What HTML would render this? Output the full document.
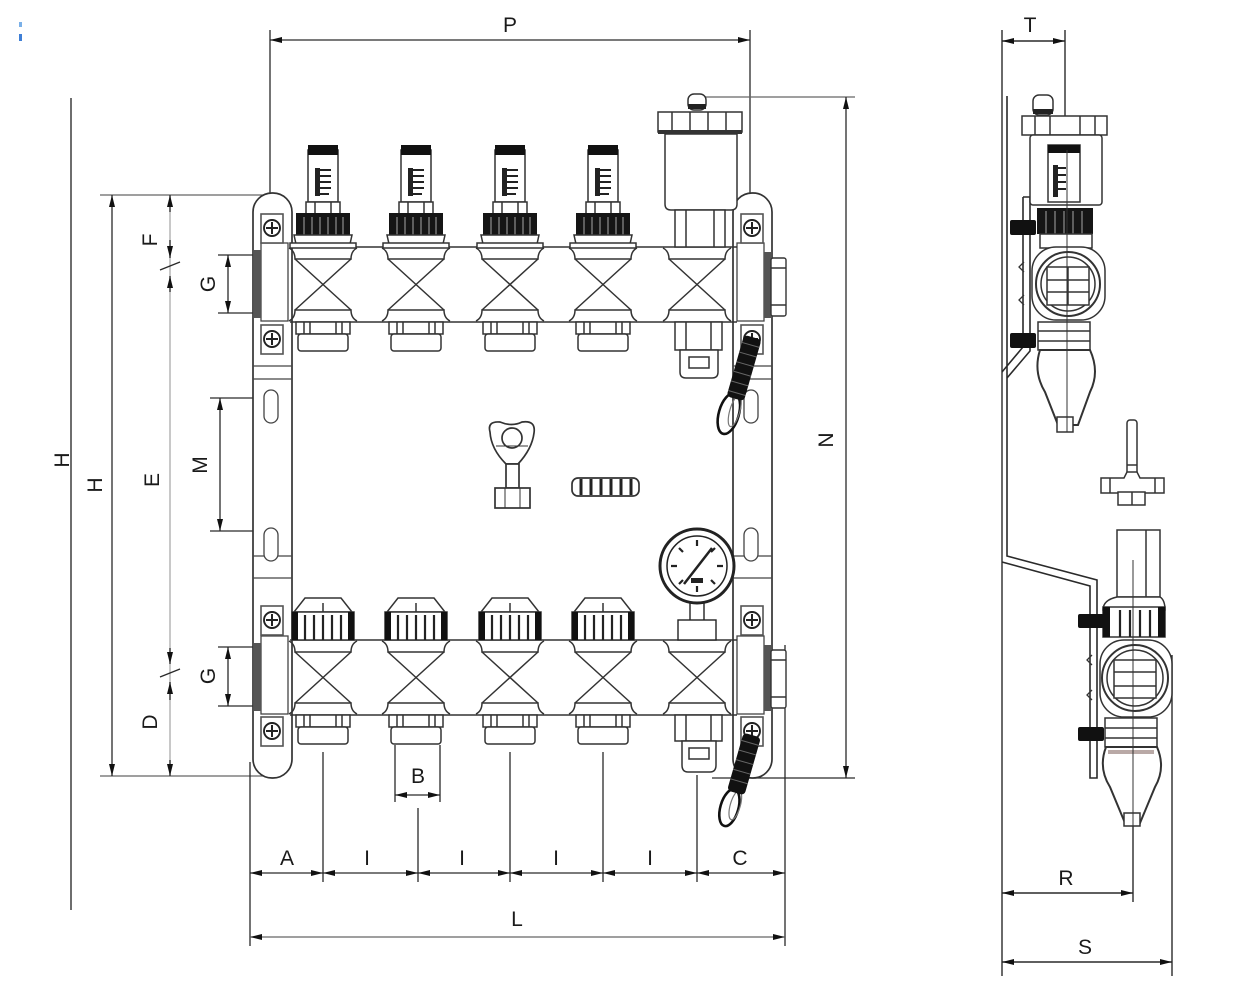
<!DOCTYPE html>
<html><head><meta charset="utf-8"><style>
html,body{margin:0;padding:0;background:#fff;}
svg{display:block;}
text{font-family:"Liberation Sans",sans-serif;font-size:21px;fill:#1a1a1a;}
</style></head><body>
<svg width="1240" height="988" viewBox="0 0 1240 988" xmlns="http://www.w3.org/2000/svg" xmlns:xlink="http://www.w3.org/1999/xlink">
<defs>
<marker id="a" viewBox="0 0 12 6" refX="12" refY="3" markerWidth="12" markerHeight="6" markerUnits="userSpaceOnUse" orient="auto-start-reverse"><path d="M0 0 L12 3 L0 6 Z" fill="#111"/></marker>
<g id="scr"><rect x="-11" y="-14" width="22" height="29" fill="#fff" stroke="#555" stroke-width="1.6"/><circle r="8" fill="#fff" stroke="#222" stroke-width="1.9"/><path d="M-6 0H6M0 -6V6" stroke="#222" stroke-width="2"/></g>
<g id="fm" stroke="#333" stroke-width="1.5" fill="#fff">
 <rect x="-15" y="150" width="30" height="52"/>
 <rect x="-15" y="145" width="30" height="10" fill="#111" stroke="none"/>
 <rect x="-8" y="168" width="5" height="28" fill="#222" stroke="none"/>
 <path d="M-3 170H8M-3 176H8M-3 182H8M-3 188H8M-3 194H6" stroke="#222" stroke-width="2"/>
 <rect x="-17" y="202" width="34" height="12"/>
 <path d="M-8 202V214M8 202V214" fill="none"/>
 <rect x="-27" y="213" width="54" height="23" fill="#151515" stroke="none"/>
 <path d="M-19 217V236M-11 217V236M-3 217V236M5 217V236M13 217V236M20 217V236" stroke="#777" stroke-width="1.5"/>
 <path d="M-29 235H29L27 244H-27Z"/>
 <rect x="-33" y="243" width="66" height="5"/>
</g>
<g id="vx" fill="none" stroke="#333" stroke-width="1.5">
 <path d="M-34 1Q-28 4 -28 12H28Q28 4 34 1"/>
 <path d="M-28 12L28 63M28 12L-28 63"/>
 <path d="M-34 74Q-28 71 -28 63H28Q28 71 34 74"/>
</g>
<g id="nt" fill="#fff" stroke="#333" stroke-width="1.5">
 <rect x="-27" y="322" width="54" height="12"/>
 <path d="M-19 322V334M-13 322V334M13 322V334M19 322V334" fill="none"/>
 <rect x="-25" y="334" width="50" height="17" rx="3"/>
</g>
<g id="rk" fill="#fff" stroke="#333" stroke-width="1.5">
 <path d="M-18 598H18L29 612H-29Z"/>
 <path d="M0 603V612" fill="none"/>
 <rect x="-31" y="612" width="62" height="28"/>
 <rect x="-31" y="612" width="6" height="28" fill="#111" stroke="none"/>
 <rect x="25" y="612" width="6" height="28" fill="#111" stroke="none"/>
 <path d="M-18 615V640M-9 615V640M0 615V640M9 615V640M18 615V640" fill="none" stroke="#222" stroke-width="2.2"/>
</g>
</defs>

<!-- small blue mark -->
<rect x="19" y="22" width="3" height="5" fill="#7ab0e8"/>
<rect x="19" y="34" width="3" height="7" fill="#3f7fd6"/>

<!-- ================= DIMENSIONS MAIN VIEW ================= -->
<g stroke="#2a2a2a" stroke-width="1.3" fill="none">
 <!-- P -->
 <line x1="270" y1="30" x2="270" y2="215"/>
 <line x1="750" y1="30" x2="750" y2="215"/>
 <line x1="270" y1="40" x2="750" y2="40" marker-start="url(#a)" marker-end="url(#a)"/>
 <!-- outer H -->
 <line x1="71" y1="98" x2="71" y2="910" stroke="#555" stroke-width="1.7"/>
 <!-- inner H & E ext -->
 <line x1="100" y1="195" x2="268" y2="195" stroke="#666"/>
 <line x1="100" y1="776" x2="268" y2="776" stroke="#666"/>
 <line x1="112" y1="195" x2="112" y2="776" marker-start="url(#a)" marker-end="url(#a)"/>
 <!-- F E D -->
 <line x1="170" y1="195" x2="170" y2="776" stroke="#aaa"/>
 <line x1="170" y1="195" x2="170" y2="212" marker-start="url(#a)"/>
 <line x1="170" y1="240" x2="170" y2="258" marker-end="url(#a)"/>
 <line x1="170" y1="292" x2="170" y2="276" marker-end="url(#a)"/>
 <line x1="160" y1="270" x2="180" y2="262"/>
 <line x1="170" y1="648" x2="170" y2="664" marker-end="url(#a)"/>
 <line x1="170" y1="700" x2="170" y2="682" marker-end="url(#a)"/>
 <line x1="160" y1="677" x2="180" y2="669"/>
 <line x1="170" y1="760" x2="170" y2="776" marker-end="url(#a)"/>
 <!-- G top -->
 <line x1="218" y1="255" x2="258" y2="255"/>
 <line x1="218" y1="313" x2="258" y2="313"/>
 <line x1="228" y1="255" x2="228" y2="313" marker-start="url(#a)" marker-end="url(#a)"/>
 <!-- G bottom -->
 <line x1="218" y1="647" x2="258" y2="647"/>
 <line x1="218" y1="706" x2="258" y2="706"/>
 <line x1="228" y1="647" x2="228" y2="706" marker-start="url(#a)" marker-end="url(#a)"/>
 <!-- M -->
 <line x1="210" y1="398" x2="265" y2="398"/>
 <line x1="210" y1="531" x2="265" y2="531"/>
 <line x1="220" y1="398" x2="220" y2="531" marker-start="url(#a)" marker-end="url(#a)"/>
 <!-- N -->
 <line x1="697" y1="97" x2="855" y2="97" stroke="#666"/>
 <line x1="712" y1="778" x2="855" y2="778"/>
 <line x1="846" y1="97" x2="846" y2="778" marker-start="url(#a)" marker-end="url(#a)"/>
 <!-- bottom extension lines -->
 <line x1="250" y1="762" x2="250" y2="946"/>
 <line x1="323" y1="752" x2="323" y2="882"/>
 <line x1="395" y1="745" x2="395" y2="802"/>
 <line x1="440" y1="745" x2="440" y2="802"/>
 <line x1="418" y1="808" x2="418" y2="882"/>
 <line x1="510" y1="752" x2="510" y2="882"/>
 <line x1="603" y1="752" x2="603" y2="882"/>
 <line x1="697" y1="775" x2="697" y2="882"/>
 <line x1="785" y1="645" x2="785" y2="946"/>
 <!-- B -->
 <line x1="418" y1="795" x2="395" y2="795" marker-end="url(#a)"/>
 <line x1="418" y1="795" x2="440" y2="795" marker-end="url(#a)"/>
 <!-- chain -->
 <line x1="250" y1="873" x2="323" y2="873" marker-start="url(#a)" marker-end="url(#a)"/>
 <line x1="323" y1="873" x2="418" y2="873" marker-start="url(#a)" marker-end="url(#a)"/>
 <line x1="418" y1="873" x2="510" y2="873" marker-start="url(#a)" marker-end="url(#a)"/>
 <line x1="510" y1="873" x2="603" y2="873" marker-start="url(#a)" marker-end="url(#a)"/>
 <line x1="603" y1="873" x2="697" y2="873" marker-start="url(#a)" marker-end="url(#a)"/>
 <line x1="697" y1="873" x2="785" y2="873" marker-start="url(#a)" marker-end="url(#a)"/>
 <!-- L -->
 <line x1="250" y1="937" x2="785" y2="937" stroke="#666" marker-start="url(#a)" marker-end="url(#a)"/>
</g>

<!-- ================= BRACKETS ================= -->
<g stroke="#333" stroke-width="1.7" fill="#fff">
 <rect x="253" y="193" width="39" height="585" rx="19"/>
 <rect x="733" y="193" width="39" height="585" rx="19"/>
</g>
<g stroke="#444" stroke-width="1.3" fill="none">
 <rect x="261" y="243" width="27" height="78" fill="#fff"/>
 <rect x="261" y="636" width="27" height="78" fill="#fff"/>
 <path d="M253 366H292M253 379H292M253 556H292M253 578H292"/>
 <rect x="264" y="390" width="14" height="33" rx="7" fill="#fff"/>
 <rect x="264" y="528" width="14" height="33" rx="7" fill="#fff"/>
 <rect x="737" y="243" width="27" height="78" fill="#fff"/>
 <rect x="737" y="636" width="27" height="78" fill="#fff"/>
 <path d="M733 366H772M733 379H772M733 556H772M733 578H772"/>
 <rect x="744" y="390" width="14" height="33" rx="7" fill="#fff"/>
 <rect x="744" y="528" width="14" height="33" rx="7" fill="#fff"/>
</g>
<rect x="254" y="250" width="7" height="68" fill="#555"/>
<rect x="254" y="643" width="7" height="68" fill="#555"/>
<rect x="764" y="252" width="7" height="66" fill="#555"/>
<rect x="764" y="645" width="7" height="66" fill="#555"/>
<g fill="#fff" stroke="#333" stroke-width="1.4">
 <rect x="771" y="258" width="15" height="58" rx="2"/>
 <path d="M771 268H786M771 305H786" fill="none"/>
 <rect x="771" y="650" width="15" height="58" rx="2"/>
 <path d="M771 660H786M771 697H786" fill="none"/>
</g>
<use xlink:href="#scr" x="272" y="228"/>
<use xlink:href="#scr" x="272" y="339"/>
<use xlink:href="#scr" x="272" y="620"/>
<use xlink:href="#scr" x="272" y="731"/>
<use xlink:href="#scr" x="752" y="228"/>
<use xlink:href="#scr" x="752" y="339"/>
<use xlink:href="#scr" x="752" y="620"/>
<use xlink:href="#scr" x="752" y="731"/>

<!-- ================= MANIFOLD BARS ================= -->
<g stroke="#333" stroke-width="1.6">
 <line x1="290" y1="247" x2="737" y2="247"/>
 <line x1="290" y1="322" x2="737" y2="322"/>
 <line x1="290" y1="640" x2="737" y2="640"/>
 <line x1="290" y1="715" x2="737" y2="715"/>
</g>
<use xlink:href="#vx" transform="translate(323,247)"/>
<use xlink:href="#vx" transform="translate(416,247)"/>
<use xlink:href="#vx" transform="translate(510,247)"/>
<use xlink:href="#vx" transform="translate(603,247)"/>
<use xlink:href="#vx" transform="translate(697,247)"/>
<use xlink:href="#vx" transform="translate(323,640)"/>
<use xlink:href="#vx" transform="translate(416,640)"/>
<use xlink:href="#vx" transform="translate(510,640)"/>
<use xlink:href="#vx" transform="translate(603,640)"/>
<use xlink:href="#vx" transform="translate(697,640)"/>

<!-- flowmeters -->
<use xlink:href="#fm" transform="translate(323,0)"/>
<use xlink:href="#fm" transform="translate(416,0)"/>
<use xlink:href="#fm" transform="translate(510,0)"/>
<use xlink:href="#fm" transform="translate(603,0)"/>
<!-- nuts under top bar -->
<use xlink:href="#nt" transform="translate(323,0)"/>
<use xlink:href="#nt" transform="translate(416,0)"/>
<use xlink:href="#nt" transform="translate(510,0)"/>
<use xlink:href="#nt" transform="translate(603,0)"/>
<!-- return knobs -->
<use xlink:href="#rk" transform="translate(323,0)"/>
<use xlink:href="#rk" transform="translate(416,0)"/>
<use xlink:href="#rk" transform="translate(510,0)"/>
<use xlink:href="#rk" transform="translate(603,0)"/>
<!-- nuts under bottom bar -->
<use xlink:href="#nt" transform="translate(323,393)"/>
<use xlink:href="#nt" transform="translate(416,393)"/>
<use xlink:href="#nt" transform="translate(510,393)"/>
<use xlink:href="#nt" transform="translate(603,393)"/>

<!-- air vent -->
<g fill="#fff" stroke="#333" stroke-width="1.5">
 <rect x="688" y="94" width="18" height="16" rx="6"/>
 <rect x="688" y="104" width="18" height="5" fill="#222" stroke="none"/>
 <rect x="658" y="112" width="84" height="20"/>
 <path d="M672 112V132M690 112V132M708 112V132M726 112V132" fill="none"/>
 <rect x="658" y="130" width="84" height="4" fill="#333" stroke="none"/>
 <path d="M665 134V204Q665 210 671 210H731Q737 210 737 204V134Z"/>
 <rect x="675" y="210" width="50" height="37"/>
 <path d="M686 210V247M714 210V247" fill="none"/>
 <rect x="675" y="322" width="47" height="28"/>
 <path d="M686 322V350M711 322V350" fill="none"/>
 <path d="M680 350H718V372Q718 378 712 378H686Q680 378 680 372Z"/>
 <rect x="689" y="357" width="20" height="11"/>
</g>
<!-- gauge -->
<g stroke="#222" fill="#fff">
 <rect x="690" y="602" width="14" height="20" stroke-width="1.4"/>
 <rect x="678" y="620" width="38" height="20" stroke-width="1.4"/>
 <circle cx="697" cy="566" r="37" stroke-width="3"/>
 <circle cx="697" cy="566" r="30" stroke-width="1.5"/>
 <path d="M697 540V546M697 586V592M671 566H677M717 566H723M679 548L683 552M715 548L711 552M679 584L683 580M715 584L711 580" stroke-width="2.2" fill="none"/>
 <path d="M684 584L712 548" stroke-width="2.5" fill="none"/>
 <rect x="691" y="578" width="12" height="5" fill="#222" stroke="none"/>
</g>
<!-- drain under bottom bar -->
<g fill="#fff" stroke="#333" stroke-width="1.5">
 <rect x="675" y="715" width="47" height="26"/>
 <path d="M686 715V741M711 715V741" fill="none"/>
 <path d="M682 741H716V765Q716 772 710 772H688Q682 772 682 765Z"/>
 <rect x="689" y="748" width="20" height="11"/>
</g>
<!-- hose coils -->
<g transform="translate(744,368) rotate(16)">
 <ellipse cx="-2" cy="48" rx="10" ry="21" fill="none" stroke="#111" stroke-width="2.6"/>
 <ellipse cx="3" cy="44" rx="5" ry="16" fill="none" stroke="#777" stroke-width="1.2"/>
 <rect x="-9" y="-32" width="18" height="64" rx="4" fill="#111"/>
 <path d="M-9 -24H9M-9 -14H9M-9 -4H9M-9 6H9M-9 16H9M-9 26H9" stroke="#666" stroke-width="1"/>
</g>
<g transform="translate(744,764) rotate(16)">
 <ellipse cx="-2" cy="46" rx="9" ry="19" fill="none" stroke="#111" stroke-width="2.6"/>
 <ellipse cx="3" cy="42" rx="5" ry="15" fill="none" stroke="#777" stroke-width="1.2"/>
 <rect x="-9" y="-30" width="18" height="60" rx="4" fill="#111"/>
 <path d="M-9 -22H9M-9 -12H9M-9 -2H9M-9 8H9M-9 18H9" stroke="#666" stroke-width="1"/>
</g>

<!-- key and nipple -->
<g stroke="#333" stroke-width="1.7" fill="#fff">
 <path d="M490 432Q487 421 500 422Q512 427 522 422Q536 420 534 433Q532 449 518 464H506Q491 449 490 432Z"/>
 <circle cx="512" cy="438" r="10"/>
 <path d="M496 446H528" fill="none" stroke-width="1"/>
 <rect x="506" y="464" width="13" height="24"/>
 <rect x="495" y="488" width="35" height="20"/>
 <path d="M505 488V508M520 488V508" fill="none" stroke-width="1"/>
 <rect x="572" y="478" width="67" height="18" rx="6"/>
 <path d="M581 479V495M591 479V495M601 479V495M611 479V495M621 479V495M631 479V495" stroke="#222" stroke-width="3" fill="none"/>
</g>

<!-- ================= SIDE VIEW ================= -->
<g stroke="#2a2a2a" stroke-width="1.4" fill="none">
 <line x1="1002" y1="30" x2="1002" y2="976"/>
 <line x1="1065" y1="30" x2="1065" y2="145"/>
 <line x1="1002" y1="41" x2="1065" y2="41" marker-start="url(#a)" marker-end="url(#a)"/>
 <path d="M1007 96V556L1097 580V778H1090V586L1002 562" stroke-width="1.6"/>
 <path d="M1023 197H1030V351L1007 378M1023 197V347L1002 372" stroke-width="1.6"/>
 <line x1="1133" y1="825" x2="1133" y2="902"/>
 <line x1="1172" y1="655" x2="1172" y2="976"/>
 <line x1="1002" y1="893" x2="1133" y2="893" marker-start="url(#a)" marker-end="url(#a)"/>
 <line x1="1002" y1="962" x2="1172" y2="962" marker-start="url(#a)" marker-end="url(#a)"/>
</g>
<!-- upper side assembly -->
<g fill="#fff" stroke="#333" stroke-width="1.5">
 <rect x="1033" y="95" width="20" height="20" rx="6"/>
 <rect x="1033" y="109" width="20" height="5" fill="#222" stroke="none"/>
 <rect x="1022" y="116" width="85" height="19"/>
 <path d="M1035 116V135M1050 116V135M1080 116V135M1095 116V135" fill="none"/>
 <rect x="1030" y="135" width="72" height="70" rx="3"/>
 <rect x="1048" y="145" width="32" height="57"/>
 <rect x="1048" y="145" width="32" height="8" fill="#111" stroke="none"/>
 <rect x="1053" y="165" width="5" height="32" fill="#222" stroke="none"/>
 <path d="M1058 168H1066M1058 175H1066M1058 182H1066M1058 189H1066" stroke="#222" stroke-width="2" fill="none"/>
 <rect x="1037" y="208" width="56" height="26" fill="#151515" stroke="none"/>
 <path d="M1046 211V234M1055 211V234M1064 211V234M1073 211V234M1082 211V234" stroke="#777" stroke-width="1.5" fill="none"/>
 <rect x="1040" y="234" width="52" height="14"/>
 <rect x="1032" y="247" width="73" height="73" rx="24"/>
 <circle cx="1068" cy="284" r="32" stroke-width="2"/>
 <circle cx="1068" cy="284" r="27" stroke-width="1.5"/>
 <rect x="1047" y="267" width="42" height="38"/>
 <path d="M1047 280H1089M1047 292H1089M1068 267V305" fill="none"/>
 <rect x="1038" y="322" width="52" height="28"/>
 <path d="M1038 331H1090M1038 341H1090" fill="none"/>
 <path d="M1040 350Q1033 372 1045 392L1058 425H1078L1090 392Q1100 372 1090 350Z" stroke-width="2"/>
 <rect x="1057" y="417" width="16" height="15"/>
 <line x1="1067" y1="150" x2="1067" y2="432" stroke-width="1"/>
</g>
<g fill="#111">
 <rect x="1010" y="220" width="26" height="15" rx="2"/>
 <rect x="1010" y="333" width="26" height="15" rx="2"/>
</g>
<path d="M1024 262L1019 267L1024 272M1024 295L1019 300L1024 305" stroke="#333" stroke-width="1.3" fill="none"/>
<!-- T key tool -->
<g fill="#fff" stroke="#333" stroke-width="1.5">
 <rect x="1127" y="420" width="10" height="55" rx="3"/>
 <path d="M1127 465H1137" fill="none"/>
 <path d="M1101 478H1124L1127 472H1137L1140 478H1164V493H1101Z"/>
 <path d="M1110 478V493M1155 478V493" fill="none"/>
 <rect x="1118" y="492" width="27" height="13"/>
 <line x1="1132" y1="492" x2="1132" y2="505"/>
</g>
<!-- lower side assembly -->
<g fill="#fff" stroke="#333" stroke-width="1.5">
 <rect x="1117" y="530" width="43" height="67"/>
 <line x1="1146" y1="530" x2="1146" y2="597"/>
 <path d="M1117 597Q1103 600 1103 610H1165Q1165 600 1160 597Z"/>
 <rect x="1103" y="607" width="62" height="30"/>
 <rect x="1103" y="607" width="7" height="30" fill="#111" stroke="none"/>
 <rect x="1158" y="607" width="7" height="30" fill="#111" stroke="none"/>
 <path d="M1120 610V637M1130 610V637M1140 610V637M1150 610V637" stroke="#222" stroke-width="2.2" fill="none"/>
 <rect x="1100" y="640" width="72" height="77" rx="24"/>
 <circle cx="1135" cy="678" r="33" stroke-width="2"/>
 <circle cx="1135" cy="678" r="28" stroke-width="1.5"/>
 <rect x="1114" y="660" width="42" height="38"/>
 <path d="M1114 672H1156M1114 686H1156" fill="none"/>
 <rect x="1105" y="718" width="52" height="29"/>
 <path d="M1105 728H1157M1105 738H1157" fill="none"/>
 <path d="M1106 747Q1098 768 1110 787L1125 823H1140L1155 787Q1166 768 1157 747Z" stroke-width="2"/>
 <rect x="1108" y="750" width="46" height="4" fill="#b9a9a6" stroke="none"/>
 <rect x="1124" y="813" width="16" height="13"/>
 <line x1="1133" y1="560" x2="1133" y2="826" stroke-width="1"/>
</g>
<g fill="#111">
 <rect x="1078" y="614" width="26" height="14" rx="2"/>
 <rect x="1078" y="727" width="26" height="14" rx="2"/>
</g>
<path d="M1092 655L1087 660L1092 665M1092 690L1087 695L1092 700" stroke="#333" stroke-width="1.3" fill="none"/>

<!-- ================= LABELS ================= -->
<text x="510" y="32" text-anchor="middle">P</text>
<text x="1030" y="32" text-anchor="middle">T</text>
<text transform="translate(62,460) rotate(-90)" text-anchor="middle" dy="7">H</text>
<text transform="translate(95,485) rotate(-90)" text-anchor="middle" dy="7">H</text>
<text transform="translate(150,240) rotate(-90)" text-anchor="middle" dy="7">F</text>
<text transform="translate(152,480) rotate(-90)" text-anchor="middle" dy="7">E</text>
<text transform="translate(150,722) rotate(-90)" text-anchor="middle" dy="7">D</text>
<text transform="translate(208,284) rotate(-90)" text-anchor="middle" dy="7">G</text>
<text transform="translate(208,676) rotate(-90)" text-anchor="middle" dy="7">G</text>
<text transform="translate(200,465) rotate(-90)" text-anchor="middle" dy="7">M</text>
<text transform="translate(826,440) rotate(-90)" text-anchor="middle" dy="7">N</text>
<text x="418" y="783" text-anchor="middle">B</text>
<text x="287" y="865" text-anchor="middle">A</text>
<text x="367" y="865" text-anchor="middle">I</text>
<text x="462" y="865" text-anchor="middle">I</text>
<text x="556" y="865" text-anchor="middle">I</text>
<text x="650" y="865" text-anchor="middle">I</text>
<text x="740" y="865" text-anchor="middle">C</text>
<text x="517" y="926" text-anchor="middle">L</text>
<text x="1066" y="885" text-anchor="middle">R</text>
<text x="1085" y="954" text-anchor="middle">S</text>
</svg>
</body></html>
